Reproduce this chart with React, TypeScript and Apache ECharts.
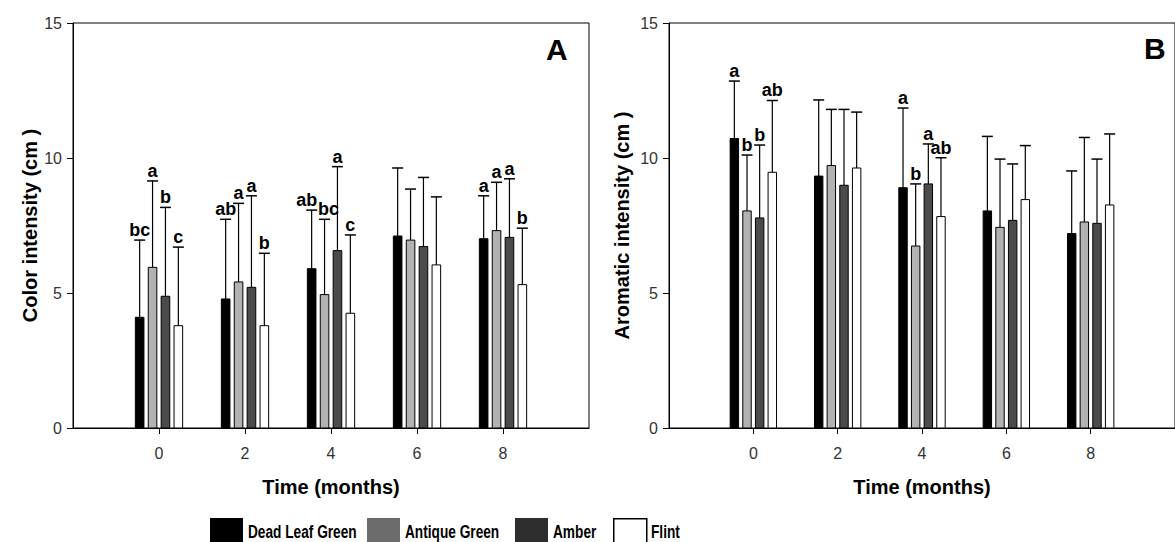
import React, { useEffect, useRef } from "react";
import * as echarts from "echarts";

// ---- data ----
const TIMES = [0, 2, 4, 6, 8];
const SERIES_NAMES = ["Dead Leaf Green", "Antique Green", "Amber", "Flint"];

// Panel A: colour intensity (cm)
const colorDeadLeaf = [4.1, 4.78, 5.9, 7.11, 7.01];
const colorDeadLeafSd = [2.86, 2.95, 2.17, 2.52, 1.59];
const colorAntique = [5.95, 5.41, 4.94, 6.96, 7.31];
const colorAntiqueSd = [3.2, 2.91, 2.79, 1.89, 1.79];
const colorAmber = [4.88, 5.21, 6.57, 6.72, 7.06];
const colorAmberSd = [3.29, 3.39, 3.11, 2.56, 2.17];
const colorFlint = [3.79, 3.79, 4.25, 6.04, 5.31];
const colorFlintSd = [2.91, 2.68, 2.9, 2.52, 2.09];
const colorLettersDeadLeaf = ["bc", "ab", "ab", "", "a"];
const colorLettersAntique = ["a", "a", "bc", "", "a"];
const colorLettersAmber = ["b", "a", "a", "", "a"];
const colorLettersFlint = ["c", "b", "c", "", "b"];

// Panel B: aromatic intensity (cm)
const aromaDeadLeaf = [10.72, 9.33, 8.9, 8.04, 7.2];
const aromaDeadLeafSd = [2.13, 2.82, 2.95, 2.76, 2.32];
const aromaAntique = [8.04, 9.72, 6.74, 7.43, 7.63];
const aromaAntiqueSd = [2.07, 2.08, 2.3, 2.53, 3.13];
const aromaAmber = [7.78, 8.99, 9.04, 7.69, 7.58];
const aromaAmberSd = [2.7, 2.81, 1.48, 2.09, 2.38];
const aromaFlint = [9.47, 9.63, 7.83, 8.46, 8.26];
const aromaFlintSd = [2.66, 2.07, 2.18, 2.0, 2.63];
const aromaLettersDeadLeaf = ["a", "", "a", "", ""];
const aromaLettersAntique = ["b", "", "b", "", ""];
const aromaLettersAmber = ["b", "", "a", "", ""];
const aromaLettersFlint = ["ab", "", "ab", "", ""];

const Y_MAX = 15;

// ---- styling ----
const BAR_COLORS = ["#000000", "#b2b2b2", "#4b4b4b", "#ffffff"];
const LEGEND_COLORS = ["#000000", "#6c6c6c", "#2d2d2d", "#ffffff"];
const OFFSETS = [-0.45, -0.15, 0.15, 0.45];
const BAR_W = 0.2;
const FONT = '"Liberation Sans", Arial, sans-serif';
// small horizontal nudges (px) for crowded significance letters: "panel-series-index"
const LABEL_NUDGE: Record<string, number> = { "0-0-2": -5, "0-1-2": 4 };

function makeSeries(
  panel: number,
  idx: number,
  means: number[],
  sds: number[],
  letters: string[]
) {
  return {
    type: "custom",
    name: SERIES_NAMES[idx],
    xAxisIndex: panel,
    yAxisIndex: panel,
    itemStyle: { color: BAR_COLORS[idx] },
    data: TIMES.map((t, i) => [t, means[i], sds[i]]),
    renderItem: (params: any, api: any) => {
      const x = api.value(0) + OFFSETS[idx];
      const v = api.value(1);
      const sd = api.value(2);
      const p0 = api.coord([x - BAR_W / 2, 0]);
      const p1 = api.coord([x + BAR_W / 2, v]);
      const pc = api.coord([x, v]);
      const cap = api.coord([x, v + sd]);
      const letter = letters[params.dataIndex];
      const children: any[] = [
        {
          type: "line",
          shape: { x1: pc[0], y1: pc[1], x2: cap[0], y2: cap[1] },
          style: { stroke: "#000", lineWidth: 1.2 },
        },
        {
          type: "line",
          shape: { x1: cap[0] - 5.5, y1: cap[1], x2: cap[0] + 5.5, y2: cap[1] },
          style: { stroke: "#000", lineWidth: 1.5 },
        },
        {
          type: "rect",
          shape: { x: p0[0], y: p1[1], width: p1[0] - p0[0], height: p0[1] - p1[1] },
          style: { fill: BAR_COLORS[idx], stroke: "#000", lineWidth: 1 },
        },
      ];
      if (letter) {
        const dx = LABEL_NUDGE[`${panel}-${idx}-${params.dataIndex}`] || 0;
        children.push({
          type: "text",
          style: {
            text: letter,
            x: cap[0] + dx,
            y: cap[1] - 1,
            align: "center",
            verticalAlign: "bottom",
            fontSize: 18,
            fontWeight: "bold",
            fontFamily: FONT,
            fill: "#000",
          },
        });
      }
      return { type: "group", children };
    },
  };
}

function makeXAxis(gridIndex: number) {
  return {
    type: "value",
    gridIndex,
    min: -2,
    max: 10,
    interval: 2,
    name: "Time (months)",
    nameLocation: "middle",
    nameGap: 49,
    nameTextStyle: { fontSize: 20, fontWeight: "bold", fontFamily: FONT, color: "#000" },
    axisLine: { show: true, onZero: false, lineStyle: { color: "#000", width: 1 } },
    axisTick: { show: true, inside: false, length: 6, lineStyle: { color: "#000" }, customValues: TIMES },
    axisLabel: {
      show: true,
      margin: 17,
      fontSize: 16,
      fontFamily: FONT,
      color: "#333",
      customValues: TIMES,
      formatter: (v: number) => (v < 0 || v > 8 ? "" : String(v)),
    },
    splitLine: { show: false },
    minorTick: { show: false },
  };
}

function makeYAxis(gridIndex: number, name: string, gap: number) {
  return {
    type: "value",
    gridIndex,
    min: 0,
    max: Y_MAX,
    interval: 5,
    name,
    nameLocation: "middle",
    nameGap: gap,
    nameTextStyle: { fontSize: 20, fontWeight: "bold", fontFamily: FONT, color: "#000" },
    axisLine: { show: true, onZero: false, lineStyle: { color: "#000", width: 1 } },
    axisTick: { show: true, inside: false, length: 6, lineStyle: { color: "#000" } },
    axisLabel: { margin: 11, fontSize: 16, fontFamily: FONT, color: "#333" },
    splitLine: { show: false },
  };
}

// legend layout (pixel positions of the swatches)
const LEGEND_X = [210, 367, 515, 613];
const LEGEND_TOP = 518;

export default function App() {
  const ref = useRef<HTMLDivElement>(null);
  useEffect(() => {
    if (!ref.current) return;
    const chart = echarts.init(ref.current, undefined, { renderer: "svg" });
    const legendGraphics: any[] = [];
    SERIES_NAMES.forEach((n, i) => {
      legendGraphics.push({
        type: "rect",
        left: LEGEND_X[i],
        top: LEGEND_TOP,
        shape: { width: 33, height: 26 },
        style: {
          fill: LEGEND_COLORS[i],
          stroke: i === 3 ? "#000" : LEGEND_COLORS[i],
          lineWidth: i === 3 ? 1.5 : 0,
        },
      });
      legendGraphics.push({
        type: "text",
        x: LEGEND_X[i] + 38,
        y: 532,
        scaleX: 0.72,
        style: {
          text: n,
          fontSize: 19,
          fontWeight: "bold",
          fontFamily: FONT,
          fill: "#000",
          align: "left",
          verticalAlign: "middle",
        },
      });
    });
    const option: any = {
      animation: false,
      backgroundColor: "#ffffff",
      grid: [
        { left: 73, top: 23, width: 516, height: 405, show: true, borderColor: "#000", borderWidth: 1, backgroundColor: "transparent" },
        { left: 669, top: 23, width: 506, height: 405, show: true, borderColor: "#000", borderWidth: 1, backgroundColor: "transparent" },
      ],
      xAxis: [makeXAxis(0), makeXAxis(1)],
      yAxis: [
        makeYAxis(0, "Color intensity (cm )", 30),
        makeYAxis(1, "Aromatic intensity (cm )", 37),
      ],
      legend: { show: false },
      graphic: [
        {
          type: "text",
          left: 546,
          top: 34,
          style: { text: "A", fontSize: 30, fontWeight: "bold", fontFamily: FONT, fill: "#000" },
        },
        {
          type: "text",
          left: 1144,
          top: 33,
          style: { text: "B", fontSize: 30, fontWeight: "bold", fontFamily: FONT, fill: "#000" },
        },
        ...legendGraphics,
      ],
      series: [
        makeSeries(0, 0, colorDeadLeaf, colorDeadLeafSd, colorLettersDeadLeaf),
        makeSeries(0, 1, colorAntique, colorAntiqueSd, colorLettersAntique),
        makeSeries(0, 2, colorAmber, colorAmberSd, colorLettersAmber),
        makeSeries(0, 3, colorFlint, colorFlintSd, colorLettersFlint),
        makeSeries(1, 0, aromaDeadLeaf, aromaDeadLeafSd, aromaLettersDeadLeaf),
        makeSeries(1, 1, aromaAntique, aromaAntiqueSd, aromaLettersAntique),
        makeSeries(1, 2, aromaAmber, aromaAmberSd, aromaLettersAmber),
        makeSeries(1, 3, aromaFlint, aromaFlintSd, aromaLettersFlint),
      ],
    };
    chart.setOption(option);
    return () => chart.dispose();
  }, []);
  return (
    <div
      ref={ref}
      style={{ position: "absolute", left: 0, top: 0, width: 1175, height: 542 }}
    />
  );
}
